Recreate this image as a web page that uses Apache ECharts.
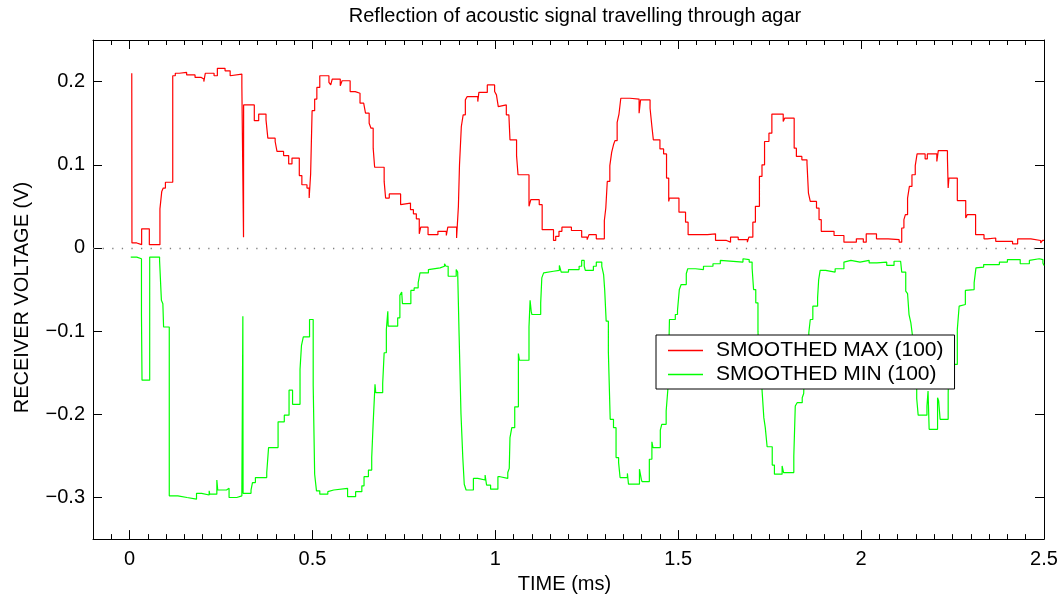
<!DOCTYPE html>
<html>
<head>
<meta charset="utf-8">
<script src="https://cdn.jsdelivr.net/npm/echarts@6/dist/echarts.min.js"></script>
<style>
html,body{margin:0;padding:0;background:#fff;}
#chart{width:1063px;height:599px;}
</style>
</head>
<body>
<div id="chart"></div>
<script>
const titleText = 'Reflection of acoustic signal travelling through agar';
const xName = 'TIME (ms)';
const yName = 'RECEIVER VOLTAGE (V)';
const seriesNames = ['SMOOTHED MAX (100)', 'SMOOTHED MIN (100)'];
const xTicks = [0, 0.5, 1, 1.5, 2, 2.5];
const yTicks = [-0.3, -0.2, -0.1, 0, 0.1, 0.2];

// SMOOTHED MAX: each pair = (time where level starts, level)
const maxT = [0.006,0.0065,0.0196,0.033,0.054,0.083,0.088,0.092,0.098,0.118,0.125,0.136,0.156,0.179,0.196,0.203,0.207,0.231,0.240,0.261,0.275,0.280,0.307,0.3115,0.3118,0.341,0.353,0.373,0.378,0.398,0.403,0.421,0.435,0.444,0.464,0.471,0.485,0.491,0.495,0.499,0.506,0.512,0.520,0.545,0.550,0.554,0.576,0.581,0.603,0.617,0.630,0.640,0.645,0.655,0.660,0.666,0.670,0.696,0.700,0.710,0.741,0.745,0.768,0.776,0.784,0.792,0.796,0.816,0.843,0.866,0.870,0.894,0.899,0.902,0.907,0.912,0.918,0.923,0.952,0.955,0.978,0.998,1.003,1.008,1.011,1.030,1.037,1.040,1.058,1.062,1.092,1.097,1.120,1.128,1.159,1.165,1.174,1.182,1.208,1.236,1.251,1.256,1.276,1.298,1.302,1.306,1.313,1.318,1.323,1.327,1.333,1.338,1.343,1.368,1.393,1.397,1.423,1.428,1.432,1.450,1.460,1.468,1.474,1.476,1.502,1.520,1.527,1.580,1.602,1.632,1.643,1.664,1.689,1.693,1.704,1.711,1.722,1.729,1.736,1.748,1.756,1.787,1.791,1.817,1.823,1.838,1.852,1.856,1.861,1.878,1.885,1.891,1.926,1.953,1.987,2.006,2.014,2.042,2.074,2.104,2.111,2.117,2.121,2.127,2.132,2.139,2.148,2.153,2.175,2.181,2.207,2.211,2.236,2.238,2.240,2.263,2.286,2.290,2.313,2.336,2.345,2.368,2.414,2.428,2.464,2.491,2.496,2.500];
const maxV = [0.210,0.006,0.004,0.023,0.004,0.047,0.068,0.072,0.079,0.207,0.210,0.211,0.208,0.205,0.203,0.200,0.210,0.207,0.216,0.213,0.207,0.209,0.194,0.013,0.172,0.153,0.161,0.154,0.132,0.128,0.116,0.111,0.101,0.108,0.087,0.076,0.072,0.060,0.089,0.165,0.179,0.193,0.207,0.199,0.196,0.203,0.195,0.201,0.188,0.186,0.174,0.172,0.162,0.150,0.144,0.120,0.097,0.080,0.060,0.065,0.052,0.054,0.046,0.041,0.035,0.017,0.025,0.016,0.020,0.015,0.025,0.012,0.050,0.100,0.146,0.160,0.178,0.182,0.176,0.187,0.196,0.188,0.184,0.170,0.172,0.160,0.158,0.130,0.111,0.088,0.050,0.058,0.052,0.022,0.009,0.014,0.020,0.025,0.021,0.013,0.010,0.016,0.011,0.033,0.048,0.080,0.099,0.115,0.124,0.129,0.151,0.161,0.180,0.179,0.162,0.178,0.168,0.146,0.130,0.119,0.113,0.084,0.056,0.060,0.043,0.031,0.016,0.017,0.009,0.007,0.013,0.010,0.007,0.013,0.031,0.050,0.086,0.100,0.128,0.138,0.161,0.152,0.156,0.120,0.110,0.106,0.102,0.066,0.056,0.048,0.034,0.020,0.015,0.007,0.011,0.007,0.017,0.011,0.010,0.007,0.024,0.034,0.040,0.060,0.074,0.088,0.099,0.113,0.107,0.113,0.104,0.117,0.108,0.072,0.084,0.057,0.036,0.040,0.016,0.011,0.012,0.008,0.005,0.011,0.009,0.006,0.009,0.009];

// SMOOTHED MIN
const minT = [0.0032,0.0196,0.0325,0.034,0.055,0.082,0.087,0.091,0.093,0.1085,0.132,0.157,0.183,0.197,0.2176,0.219,0.2386,0.241,0.265,0.272,0.293,0.307,0.3097,0.3103,0.332,0.336,0.344,0.375,0.380,0.406,0.423,0.436,0.4456,0.466,0.470,0.475,0.492,0.502,0.506,0.511,0.520,0.542,0.546,0.558,0.596,0.618,0.635,0.641,0.653,0.662,0.666,0.671,0.673,0.692,0.696,0.702,0.706,0.707,0.733,0.739,0.744,0.746,0.769,0.778,0.789,0.794,0.817,0.821,0.849,0.861,0.865,0.871,0.893,0.897,0.901,0.906,0.911,0.915,0.920,0.940,0.952,0.972,0.976,0.987,1.007,1.013,1.034,1.038,1.040,1.045,1.053,1.063,1.066,1.092,1.095,1.098,1.100,1.124,1.127,1.132,1.136,1.159,1.175,1.180,1.200,1.229,1.236,1.243,1.246,1.268,1.276,1.291,1.296,1.299,1.303,1.309,1.314,1.323,1.330,1.337,1.341,1.361,1.364,1.394,1.399,1.401,1.421,1.428,1.431,1.451,1.455,1.467,1.472,1.476,1.492,1.498,1.503,1.508,1.522,1.526,1.547,1.569,1.595,1.615,1.619,1.677,1.679,1.694,1.702,1.706,1.712,1.718,1.721,1.729,1.734,1.738,1.743,1.757,1.763,1.784,1.788,1.816,1.820,1.825,1.839,1.843,1.846,1.857,1.861,1.868,1.881,1.884,1.888,1.903,1.929,1.953,1.956,1.972,1.997,2.022,2.043,2.070,2.090,2.108,2.111,2.122,2.127,2.131,2.136,2.140,2.142,2.152,2.156,2.180,2.183,2.186,2.209,2.212,2.216,2.238,2.240,2.263,2.268,2.271,2.285,2.289,2.309,2.314,2.318,2.335,2.378,2.400,2.435,2.460,2.464,2.487,2.492,2.497,2.500];
const minV = [-0.011,-0.013,-0.080,-0.159,-0.011,-0.015,-0.063,-0.067,-0.095,-0.298,-0.300,-0.302,-0.295,-0.297,-0.292,-0.296,-0.279,-0.291,-0.289,-0.300,-0.298,-0.291,-0.082,-0.295,-0.291,-0.282,-0.276,-0.270,-0.240,-0.209,-0.201,-0.171,-0.188,-0.146,-0.117,-0.107,-0.086,-0.165,-0.272,-0.292,-0.296,-0.293,-0.291,-0.289,-0.299,-0.293,-0.286,-0.275,-0.267,-0.252,-0.210,-0.164,-0.174,-0.163,-0.126,-0.098,-0.076,-0.094,-0.084,-0.057,-0.053,-0.067,-0.051,-0.048,-0.042,-0.030,-0.026,-0.024,-0.022,-0.019,-0.022,-0.034,-0.026,-0.029,-0.106,-0.199,-0.252,-0.284,-0.291,-0.277,-0.279,-0.273,-0.285,-0.290,-0.275,-0.277,-0.270,-0.265,-0.228,-0.216,-0.191,-0.127,-0.135,-0.095,-0.063,-0.076,-0.080,-0.066,-0.036,-0.030,-0.028,-0.027,-0.021,-0.029,-0.026,-0.022,-0.015,-0.022,-0.027,-0.022,-0.017,-0.022,-0.032,-0.051,-0.088,-0.125,-0.206,-0.216,-0.252,-0.258,-0.276,-0.271,-0.284,-0.266,-0.278,-0.281,-0.254,-0.233,-0.240,-0.219,-0.212,-0.196,-0.168,-0.086,-0.080,-0.075,-0.050,-0.044,-0.031,-0.025,-0.026,-0.022,-0.019,-0.015,-0.017,-0.013,-0.014,-0.017,-0.024,-0.050,-0.066,-0.100,-0.140,-0.170,-0.204,-0.216,-0.239,-0.261,-0.272,-0.262,-0.270,-0.250,-0.190,-0.186,-0.180,-0.175,-0.130,-0.102,-0.086,-0.070,-0.060,-0.038,-0.027,-0.029,-0.025,-0.017,-0.015,-0.017,-0.015,-0.018,-0.017,-0.021,-0.016,-0.018,-0.029,-0.052,-0.055,-0.080,-0.090,-0.104,-0.140,-0.181,-0.201,-0.190,-0.172,-0.218,-0.180,-0.184,-0.206,-0.175,-0.140,-0.098,-0.070,-0.068,-0.051,-0.050,-0.042,-0.024,-0.023,-0.020,-0.017,-0.014,-0.019,-0.015,-0.013,-0.011,-0.014,-0.018,-0.021];

const FONT = '"Liberation Sans", Arial, Helvetica, sans-serif';
const zip = (t, v) => t.map((x, i) => [x, v[i]]);
const fmt = v => String(Math.round(v * 100) / 100).replace('-', '\u2212');

const chart = echarts.init(document.getElementById('chart'), null, {renderer: 'canvas'});

const baseX = {type: 'value', min: -0.1, max: 2.5, splitLine: {show: false}};
const baseY = {type: 'value', min: -0.35, max: 0.25, splitLine: {show: false}};
const lineBlack = {show: true, onZero: false, lineStyle: {color: '#000', width: 1}};

const option = {
  animation: false,
  backgroundColor: '#fff',
  textStyle: {fontFamily: FONT},
  title: {
    text: titleText, left: 575, top: 6, textAlign: 'center', padding: 0,
    textStyle: {fontFamily: FONT, fontSize: 20, fontWeight: 'normal', color: '#000'}
  },
  grid: {left: 93, right: 19, top: 40, bottom: 58, containLabel: false},
  legend: {
    orient: 'vertical', left: 656, top: 335,
    padding: [5, 11, 4, 12],
    backgroundColor: '#fff', borderColor: '#000', borderWidth: 1,
    icon: 'rect', itemWidth: 35, itemHeight: 1.3, itemGap: 3,
    textStyle: {fontFamily: FONT, fontSize: 21, color: '#000', lineHeight: 20, padding: [0, 0, 0, 8]},
    data: seriesNames, selectedMode: false
  },
  xAxis: [
    Object.assign({}, baseX, {
      position: 'bottom', axisLine: lineBlack,
      axisTick: {show: true, inside: true, length: 9, customValues: xTicks, lineStyle: {color: '#000'}},
      axisLabel: {show: true, customValues: xTicks, margin: 10, color: '#000', fontSize: 20, fontFamily: FONT, formatter: fmt},
      name: xName, nameLocation: 'middle', nameGap: 30,
      nameTextStyle: {fontFamily: FONT, fontSize: 20, color: '#000', padding: [0, 8, 0, 0]}
    }),
    Object.assign({}, baseX, {
      position: 'bottom', interval: 0.05, axisLine: {show: false, onZero: false},
      axisTick: {show: true, inside: true, length: 5, lineStyle: {color: '#000'}},
      axisLabel: {show: false}
    }),
    Object.assign({}, baseX, {
      position: 'top', axisLine: lineBlack,
      axisTick: {show: true, inside: true, length: 9, customValues: xTicks, lineStyle: {color: '#000'}},
      axisLabel: {show: false}
    }),
    Object.assign({}, baseX, {
      position: 'top', interval: 0.05, axisLine: {show: false, onZero: false},
      axisTick: {show: true, inside: true, length: 5, lineStyle: {color: '#000'}},
      axisLabel: {show: false}
    })
  ],
  yAxis: [
    Object.assign({}, baseY, {
      position: 'left', axisLine: lineBlack,
      axisTick: {show: true, inside: true, length: 9, customValues: yTicks, lineStyle: {color: '#000'}},
      axisLabel: {show: true, customValues: yTicks, margin: 8, color: '#000', fontSize: 20, fontFamily: FONT, formatter: fmt},
      name: yName, nameLocation: 'middle', nameGap: 61, nameRotate: 90,
      nameTextStyle: {fontFamily: FONT, fontSize: 20, color: '#000', padding: [0, 16, 0, 0]}
    }),
    Object.assign({}, baseY, {
      position: 'right', axisLine: lineBlack,
      axisTick: {show: true, inside: true, length: 9, customValues: yTicks, lineStyle: {color: '#000'}},
      axisLabel: {show: false}
    })
  ],
  series: [
    {
      name: seriesNames[0], type: 'line', step: 'end', xAxisIndex: 0, yAxisIndex: 0,
      symbol: 'none', showSymbol: false, clip: true,
      lineStyle: {color: '#ff0000', width: 1.2}, itemStyle: {color: '#ff0000'},
      data: zip(maxT, maxV),
      markLine: {
        silent: true, symbol: 'none', label: {show: false},
        lineStyle: {color: '#808080', width: 1.3, type: [1.3, 8.3]},
        emphasis: {disabled: true},
        data: [{yAxis: 0}]
      },
      z: 3
    },
    {
      name: seriesNames[1], type: 'line', step: 'end', xAxisIndex: 0, yAxisIndex: 0,
      symbol: 'none', showSymbol: false, clip: true,
      lineStyle: {color: '#00ff00', width: 1.2}, itemStyle: {color: '#00ff00'},
      data: zip(minT, minV),
      z: 3
    }
  ]
};
chart.setOption(option);
</script>
</body>
</html>
